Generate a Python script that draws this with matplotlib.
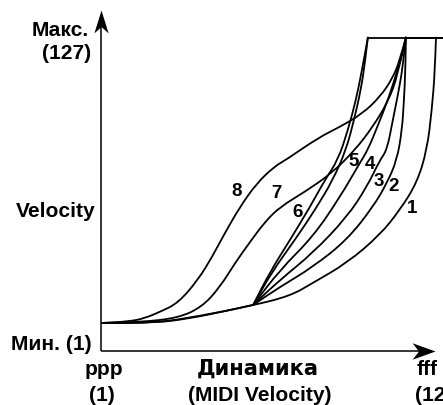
import matplotlib
matplotlib.use("Agg")
import matplotlib.pyplot as plt
from matplotlib.path import Path
from matplotlib.patches import PathPatch

plt.rcParams['font.family'] = ['Liberation Sans', 'DejaVu Sans']

# ---- data (input velocity -> output velocity) ----
VEL_MIN, VEL_MAX = 1, 127

# shared beginning of curves 2..6 (ends at the branching point)
base_x = [1.0, 24.3, 37.9, 51.5, 64.0]
base_y = [1.0, 1.1, 3.1, 6.0, 9.0]

c1_x = [1.0, 24.3, 42.0, 62.7, 79.2, 88.6, 102.7, 116.3, 124.5, 131.5, 135.7, 137.7, 139.0, 139.4]
c1_y = [1.0, 1.1, 4.1, 8.5, 12.9, 18.7, 27.5, 39.9, 50.9, 62.8, 77.4, 95.1, 112.7, 127.0]

c2_x = [75.0, 88.6, 102.7, 113.4, 119.2, 123.3, 125.4, 126.2, 126.8, 127.0]
c2_y = [16.9, 25.7, 37.7, 52.2, 62.8, 73.0, 86.2, 99.5, 112.7, 127.0]

c3_x = [75.0, 88.6, 102.7, 110.9, 116.3, 119.2, 121.6, 124.1, 125.8, 127.0]
c3_y = [20.0, 31.9, 47.8, 61.1, 73.0, 77.4, 90.6, 103.9, 114.9, 127.0]

c4_x = [75.0, 88.6, 99.8, 108.0, 111.3, 115.5, 119.6, 122.9, 125.4, 127.0]
c4_y = [24.4, 39.0, 56.6, 71.7, 77.4, 88.4, 99.5, 110.5, 119.4, 127.0]

c5_x = [71.7, 81.2, 89.5, 96.9, 102.3, 105.6, 108.4, 110.1, 111.3]
c5_y = [23.5, 37.7, 50.9, 64.2, 77.4, 90.6, 103.9, 115.8, 127.0]

c6_x = [70.9, 79.2, 87.4, 93.6, 99.0, 103.1, 106.4, 108.9, 111.3]
c6_y = [23.5, 37.7, 52.2, 64.2, 73.0, 86.2, 99.5, 112.7, 127.0]

c7_x = [1.0, 17.3, 33.0, 42.9, 50.3, 56.5, 62.7, 68.8, 75.0, 85.3, 96.5, 106.0, 113.0, 119.6, 123.7, 127.0]
c7_y = [1.0, 1.4, 3.2, 8.1, 16.9, 27.5, 36.8, 45.6, 52.2, 58.9, 67.2, 77.4, 87.1, 98.6, 110.5, 127.0]

c8_x = [1.0, 13.2, 19.4, 25.5, 33.0, 41.2, 47.0, 52.3, 58.5, 65.5, 73.0, 77.5, 90.7, 99.8, 108.9, 116.3, 121.6, 124.5, 127.0]
c8_y = [1.0, 1.7, 3.2, 5.9, 9.8, 20.0, 30.1, 40.7, 52.2, 62.8, 70.3, 73.0, 82.7, 87.6, 93.3, 100.8, 109.2, 117.1, 127.0]

plateau_end_x = 145.0

curve_labels = ['1', '2', '3', '4', '5', '6', '7', '8']
label_x = [129.4, 121.8, 115.7, 112.0, 105.3, 82.2, 73.7, 57.2]
label_y = [51.7, 61.2, 63.4, 70.8, 72.2, 49.9, 58.3, 59.0]

# ---- figure ----
W, H = 443, 405
fig = plt.figure(figsize=(W / 100, H / 100), dpi=100)

def fx(px):
    return px / W

def fy(py):
    return 1 - py / H

ax_left_px, ax_bottom_px = 100.5, 350.5
ax = fig.add_axes([fx(ax_left_px), fy(ax_bottom_px), 1 - fx(ax_left_px), fy(0) - fy(ax_bottom_px)])
ax.set_xlim(1.0, 142.3)
ax.set_ylim(-11.14, 143.6)
ax.axis('off')

LW = 1.3

def smooth_piece(xs, ys):
    """Quadratic B-spline through the read points (endpoints kept)."""
    pts = list(zip(xs, ys))
    if len(pts) < 3:
        return Path(pts, [Path.MOVETO] + [Path.LINETO] * (len(pts) - 1))
    verts = [pts[0]]
    codes = [Path.MOVETO]
    m = ((pts[0][0] + pts[1][0]) / 2, (pts[0][1] + pts[1][1]) / 2)
    verts.append(m); codes.append(Path.LINETO)
    for i in range(1, len(pts) - 1):
        nxt = pts[i + 1]
        if i == len(pts) - 2:
            end = nxt
        else:
            end = ((pts[i][0] + nxt[0]) / 2, (pts[i][1] + nxt[1]) / 2)
        verts += [pts[i], end]
        codes += [Path.CURVE3, Path.CURVE3]
    return Path(verts, codes)

def draw_piece(xs, ys):
    ax.add_patch(PathPatch(smooth_piece(xs, ys), facecolor='none',
                           edgecolor='black', lw=LW, capstyle='round',
                           joinstyle='round'))

# base shared by curves 2..6
draw_piece(base_x, base_y)
for cx, cy in [(c2_x, c2_y), (c3_x, c3_y), (c4_x, c4_y), (c5_x, c5_y), (c6_x, c6_y)]:
    draw_piece([base_x[-1]] + cx, [base_y[-1]] + cy)
for cx, cy in [(c1_x, c1_y), (c7_x, c7_y), (c8_x, c8_y)]:
    draw_piece(cx, cy)

# plateau at maximum
for cx in [c1_x, c2_x, c5_x]:
    ax.plot([cx[-1], plateau_end_x], [VEL_MAX, VEL_MAX], color='black', lw=LW,
            solid_capstyle='butt')

for t, x, y in zip(curve_labels, label_x, label_y):
    ax.text(x, y, t, ha='center', va='center', fontsize=13.5, fontweight='bold')

# axes with arrows
y_axis_bottom = -11.14
y_tip, x_tip = 139.2, 139.0
ax.plot([1.0, 1.0], [y_axis_bottom, y_tip - 5], color='black', lw=1.1,
        clip_on=False, solid_capstyle='butt')
ax.plot([1.0, x_tip - 5], [y_axis_bottom, y_axis_bottom], color='black', lw=1.1,
        clip_on=False, solid_capstyle='butt')

up_head = Path([(0, 0), (-0.31, -1.0), (0, -0.72), (0.31, -1.0), (0, 0)],
               [Path.MOVETO, Path.LINETO, Path.LINETO, Path.LINETO, Path.CLOSEPOLY])
right_head = Path([(0, 0), (-1.0, 0.36), (-0.72, 0), (-1.0, -0.36), (0, 0)],
                  [Path.MOVETO, Path.LINETO, Path.LINETO, Path.LINETO, Path.CLOSEPOLY])
ax.plot([1.0], [y_tip], marker=up_head, markersize=33, color='black',
        markeredgewidth=0, clip_on=False)
ax.plot([x_tip], [y_axis_bottom], marker=right_head, markersize=33, color='black',
        markeredgewidth=0, clip_on=False)

fs = 15.1
def label(px, py, s, ha, family=None):
    kw = {}
    if family:
        kw['family'] = family
    fig.text(fx(px), fy(py), s, ha=ha, va='baseline', fontsize=fs,
             fontweight='bold', **kw)

label(89, 36, 'Макс.', 'right')
label(91, 59, '(127)', 'right')
label(95, 217, 'Velocity', 'right')
label(92, 350, 'Мин. (1)', 'right')
label(104, 375, 'ppp', 'center')
label(102, 401, '(1)', 'center')
label(258, 375, 'Динамика', 'center', family=['DejaVu Sans'])
label(260, 401, '(MIDI Velocity)', 'center')
label(417, 375, 'fff', 'left')
label(415, 401, '(127)', 'left')

fig.savefig('out.png', dpi=100)
